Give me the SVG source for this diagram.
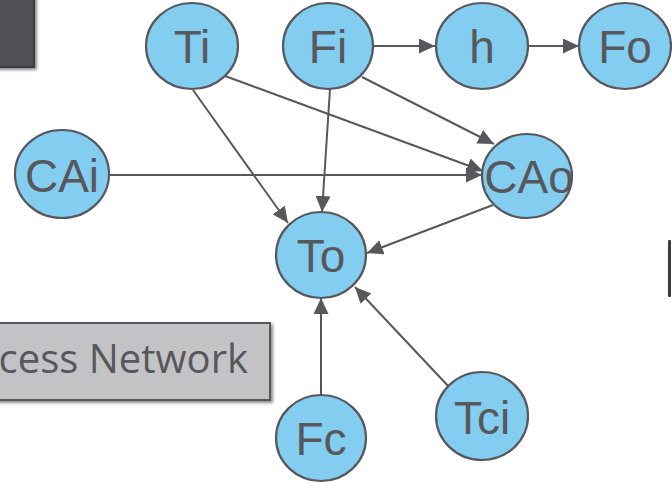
<svg xmlns="http://www.w3.org/2000/svg" width="672" height="483" viewBox="0 0 672 483">
  <style>
    .node ellipse { fill: #83cdf0; stroke: #58585c; stroke-width: 2.2; }
    .node text { font-family: "Liberation Sans", Arial, sans-serif; font-size: 46px; fill: #58575c; text-anchor: middle; }
    .edge { stroke: #58585c; stroke-width: 2; fill: none; }
    .label { font-family: "Open Sans", "Liberation Sans", sans-serif; font-size: 40px; fill: #58575c; }
  </style>
  <defs>
    <marker id="arrow" markerUnits="userSpaceOnUse" markerWidth="18" markerHeight="16" refX="16" refY="7.5" orient="auto">
      <path d="M0,0 L16,7.5 L0,15 Z" fill="#58585c"/>
    </marker>
    <filter id="shadow" x="-10%" y="-10%" width="130%" height="130%">
      <feGaussianBlur in="SourceAlpha" stdDeviation="1.5"/>
      <feOffset dx="2" dy="2" result="b"/>
      <feComponentTransfer><feFuncA type="linear" slope="0.45"/></feComponentTransfer>
      <feMerge><feMergeNode/><feMergeNode in="SourceGraphic"/></feMerge>
    </filter>
  </defs>

  <!-- panels at the edges -->
  <g id="panel-top-left">
    <rect x="-10" y="-10" width="44" height="77" fill="#505057" stroke="#3b3b40" stroke-width="2" filter="url(#shadow)"/>
  </g>
  <g id="panel-right">
    <rect x="668" y="240" width="3" height="57" rx="1" fill="#3b3b40"/>
  </g>
  <g id="process-network-label">
    <rect x="-20" y="323" width="290" height="77" fill="#c3c3c5" stroke="#58585c" stroke-width="2" filter="url(#shadow)"/>
    <text class="label" x="248" y="373" text-anchor="end">cess Network</text>
  </g>

  <!-- connectors -->
  <g id="connectors">
    <line class="edge" x1="373" y1="46" x2="435" y2="46" marker-end="url(#arrow)"/>
    <line class="edge" x1="528" y1="46" x2="579" y2="46" marker-end="url(#arrow)"/>
    <line class="edge" x1="193" y1="90" x2="288" y2="223" marker-end="url(#arrow)"/>
    <line class="edge" x1="225" y1="76" x2="483" y2="171" marker-end="url(#arrow)"/>
    <line class="edge" x1="362" y1="77" x2="494" y2="144" marker-end="url(#arrow)"/>
    <line class="edge" x1="330" y1="89" x2="322" y2="212" marker-end="url(#arrow)"/>
    <line class="edge" x1="109" y1="175" x2="482" y2="175" marker-end="url(#arrow)"/>
    <line class="edge" x1="493" y1="205" x2="367" y2="253" marker-end="url(#arrow)"/>
    <line class="edge" x1="321" y1="395" x2="321" y2="298" marker-end="url(#arrow)"/>
    <line class="edge" x1="450" y1="388" x2="355" y2="287" marker-end="url(#arrow)"/>
  </g>

  <!-- nodes -->
  <g id="Ti" class="node"><ellipse cx="192" cy="46" rx="46" ry="43"/><text x="192" y="63">Ti</text></g>
  <g id="Fi" class="node"><ellipse cx="328" cy="46" rx="45" ry="43"/><text x="328" y="63">Fi</text></g>
  <g id="h" class="node"><ellipse cx="482" cy="46" rx="46" ry="43"/><text x="482" y="63">h</text></g>
  <g id="Fo" class="node"><ellipse cx="625" cy="46" rx="46" ry="43"/><text x="625" y="63">Fo</text></g>
  <g id="CAi" class="node"><ellipse cx="62" cy="174" rx="47" ry="44"/><text x="62" y="192">CAi</text></g>
  <g id="CAo" class="node"><ellipse cx="527" cy="176" rx="45" ry="42"/><text x="529" y="193">CAo</text></g>
  <g id="To" class="node"><ellipse cx="321" cy="255" rx="45" ry="43"/><text x="321" y="272">To</text></g>
  <g id="Fc" class="node"><ellipse cx="321" cy="438" rx="45" ry="43"/><text x="321" y="455">Fc</text></g>
  <g id="Tci" class="node"><ellipse cx="482" cy="416" rx="46" ry="44"/><text x="482" y="434">Tci</text></g>
</svg>
